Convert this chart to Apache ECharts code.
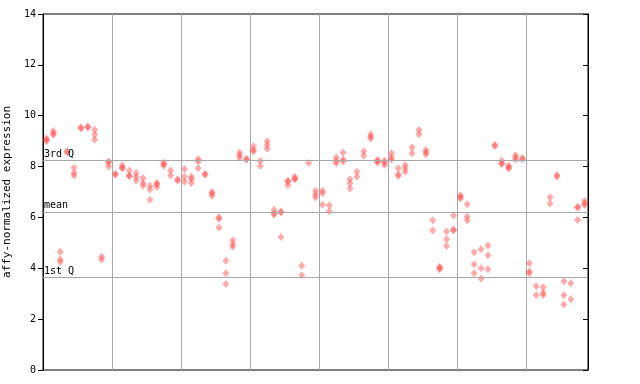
<!DOCTYPE html>
<html><head><meta charset="utf-8">
<script src="https://cdn.jsdelivr.net/npm/echarts@6/dist/echarts.min.js"></script>
<style>html,body{margin:0;padding:0;background:#fff}#c{width:640px;height:384px}</style>
</head><body><div id="c"></div>
<script>
// values per sample column, 8 groups of columns
const group1 = [[9.1,9.05,9.0],[9.4,9.3,9.25],[4.65,4.35,4.25],[8.6,8.55],[7.95,7.75,7.65],[9.55,9.5],[9.57,9.55],[9.45,9.25,9.05],[4.45,4.35],[8.2,8.15,8.0]];
const group2 = [[7.72,7.68],[8.05,7.95,7.93],[7.85,7.65,7.62],[7.75,7.6,7.45],[7.55,7.35,7.25],[7.25,7.1,6.7],[7.35,7.3,7.2],[8.15,8.1,8.03],[7.85,7.65],[7.5,7.45]];
const group3 = [[7.9,7.6,7.4],[7.6,7.5,7.35],[8.3,8.2,7.93],[7.72,7.68],[7.0,6.95,6.85],[6.0,5.95,5.6],[4.3,3.8,3.38],[5.1,4.95,4.85],[8.55,8.45,8.35],[8.3,8.28]];
const group4 = [[8.8,8.65,8.6],[8.22,8.02],[9.0,8.85,8.7],[6.3,6.15,6.12],[6.22,6.2,5.23],[7.45,7.4,7.27],[7.6,7.52,7.5],[4.1,3.73],[8.14],[7.05,6.9,6.78]];
const group5 = [[7.05,6.95,6.5],[6.48,6.24],[8.36,8.22,8.13],[8.55,8.28,8.2],[7.5,7.34,7.14],[7.8,7.6],[8.6,8.43],[9.27,9.17,9.1],[8.27,8.2,8.17],[8.23,8.15,8.06]];
const group6 = [[8.52,8.36,8.28],[7.93,7.7,7.63],[8.06,7.93,7.8],[8.76,8.52],[9.44,9.27],[8.65,8.56,8.48],[5.89,5.49],[4.06,4.0,3.96],[5.45,5.14,4.88],[6.08,5.52,5.5]];
const group7 = [[6.86,6.8,6.74],[6.52,6.04,5.89],[4.63,4.16,3.8],[4.75,4.0,3.6],[4.9,4.51,3.96],[8.86,8.8],[8.23,8.13,8.1],[8.03,7.97,7.92],[8.45,8.36,8.28],[8.33,8.3]];
const group8 = [[4.2,3.87,3.8],[3.29,2.95],[3.25,3.04,2.95],[6.79,6.55],[7.67,7.6],[3.49,2.94,2.58],[3.41,2.78],[6.42,6.38,5.9],[6.65,6.55,6.49]];
const refLines = [{name:'3rd Q', value:8.25},{name:'mean', value:6.22},{name:'1st Q', value:3.64}];
const yTicks = [0,2,4,6,8,10,12,14];
const yTitle = 'affy-normalized expression';

const groups = [group1,group2,group3,group4,group5,group6,group7,group8];
const columns = [].concat(...groups);
const points = [];
columns.forEach((vals,i)=>vals.forEach(v=>points.push([i+0.5,v])));
const nCols = columns.length;
const mono = 'DejaVu Sans Mono';

const chart = echarts.init(document.getElementById('c'));
chart.setOption({
  animation:false,
  grid:{left:43,right:52,top:14,bottom:14,show:true,borderColor:'#000',borderWidth:1,backgroundColor:'#fff',
    containLabel:false,outerBoundsMode:'none'},
  xAxis:{type:'value',min:0,max:nCols,interval:10,
    axisLine:{show:false},axisTick:{show:false},axisLabel:{show:false},
    splitLine:{show:true,lineStyle:{color:'#a8a8a8',width:1}}},
  yAxis:[{type:'value',min:yTicks[0],max:yTicks[yTicks.length-1],interval:2,
    axisLine:{show:true,lineStyle:{color:'#000'}},
    axisTick:{show:true,length:5,inside:false,lineStyle:{color:'#000'}},
    axisLabel:{fontFamily:mono,fontSize:10,color:'#000',margin:7},
    splitLine:{show:false},
    name:yTitle,nameLocation:'middle',nameGap:23,
    nameTextStyle:{fontFamily:mono,fontSize:11,color:'#000'}},
   {type:'value',position:'right',min:yTicks[0],max:yTicks[yTicks.length-1],interval:2,
    axisLine:{show:true,lineStyle:{color:'#000'}},
    axisTick:{show:true,length:5,inside:true,lineStyle:{color:'#000'}},
    axisLabel:{show:false},splitLine:{show:false}}],
  series:[{type:'scatter',data:points,symbol:'diamond',symbolSize:[7,8],
    itemStyle:{color:'rgba(255,80,80,0.6)'},
    markLine:{silent:true,symbol:'none',
      lineStyle:{color:'#a8a8a8',type:'solid',width:1},
      label:{show:true,position:'insideStartTop',distance:[1,1],formatter:p=>p.name,
        fontFamily:mono,fontSize:10,color:'#000'},
      data:refLines.map(r=>({name:r.name,yAxis:r.value}))}}]
});
</script></body></html>
